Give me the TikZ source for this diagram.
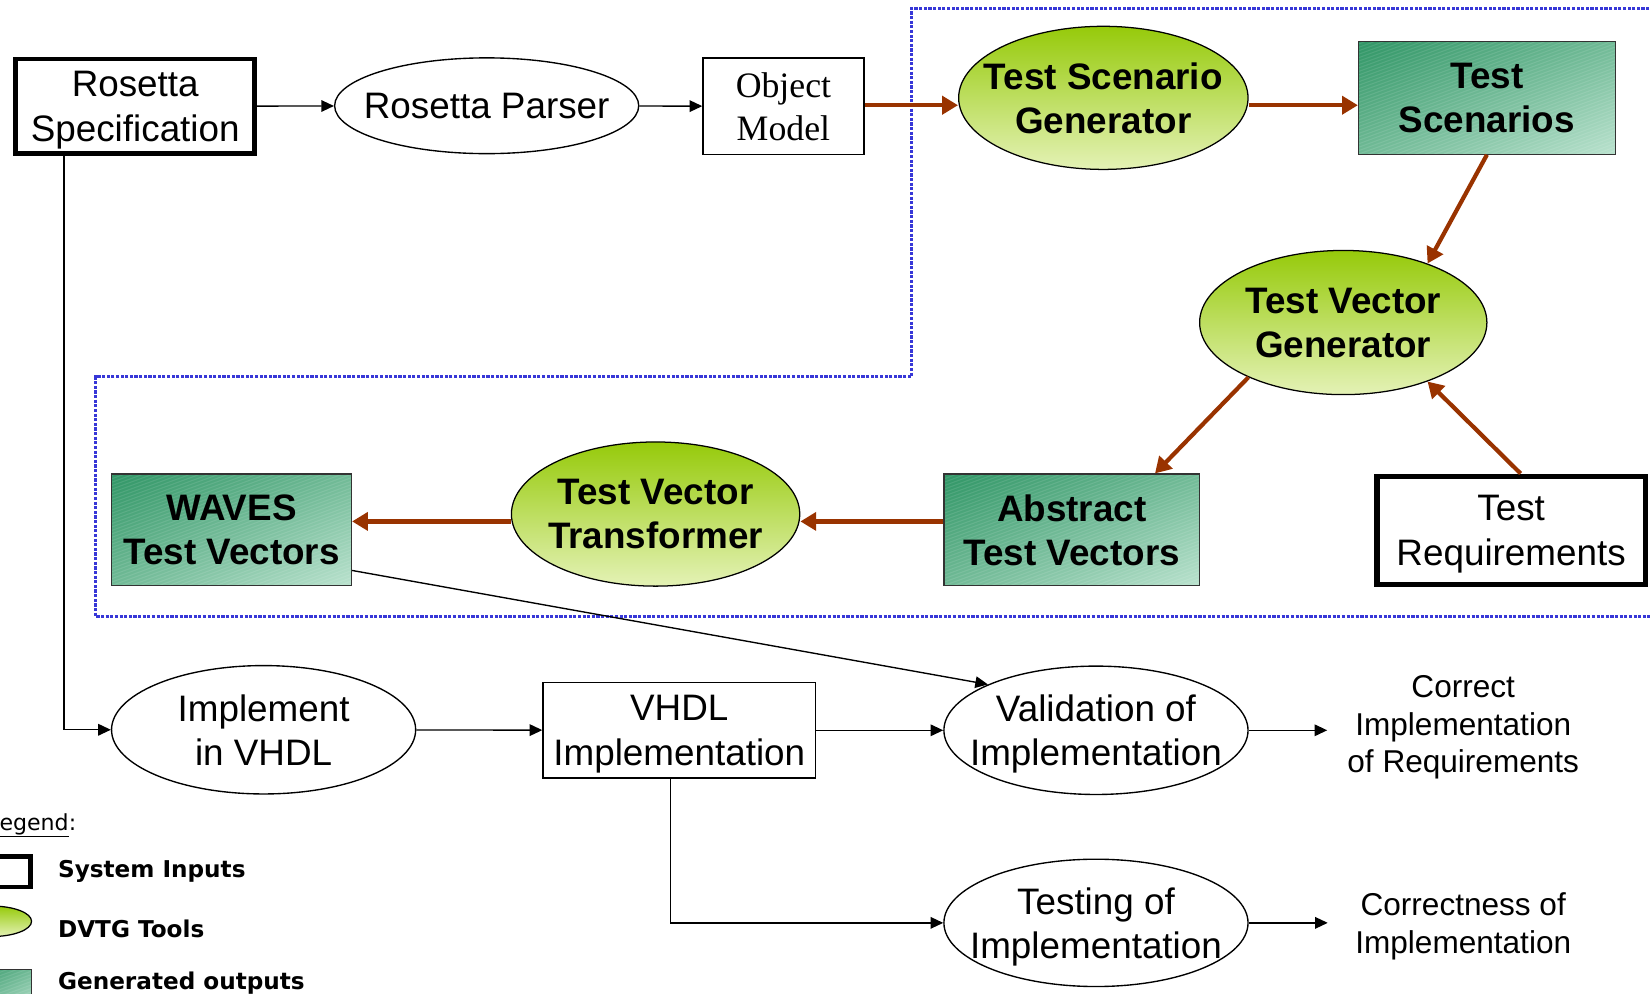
\documentclass[tikz,border=0pt]{standalone}
\usepackage{fontspec}
\setmainfont{Liberation Sans}
\newfontfamily\serifface{Liberation Serif}
\newfontfamily\legendface{DejaVu Sans}
\usetikzlibrary{arrows.meta,shapes.geometric,shadings}

\definecolor{brn}{RGB}{153,51,0}
\definecolor{frameblue}{RGB}{55,55,215}
\definecolor{limetop}{RGB}{150,202,10}
\definecolor{limebot}{RGB}{228,242,182}
\definecolor{seadark}{RGB}{48,150,102}
\definecolor{seamid}{RGB}{112,186,150}
\definecolor{sealight}{RGB}{186,226,206}

\tikzset{
  txt/.style={font=\fontsize{35}{42}\selectfont, align=center, inner sep=0pt, text depth=0pt},
  smalltxt/.style={font=\fontsize{30}{36}\selectfont, align=center, inner sep=0pt, text depth=0pt},
  sysbox/.style={txt, draw, rectangle, line width=4.5pt},
  procbox/.style={txt, draw, rectangle, line width=1.3pt},
  proc/.style={txt, draw, ellipse, line width=1.3pt, inner xsep=-25pt},
  tool/.style={draw, ellipse, line width=1.2pt, top color=limetop, bottom color=limebot,
    font=\bfseries\fontsize{35}{42}\selectfont, align=center, inner sep=0pt, inner xsep=-25pt,
    text depth=0pt},
  outbox/.style={draw=black!80, rectangle, line width=1.2pt,
    upper left=seadark, upper right=seamid, lower left=seamid, lower right=sealight,
    font=\bfseries\fontsize{35}{42}\selectfont, align=center, inner sep=0pt, text depth=0pt,
    path picture={
      \foreach \k in {-40,...,30}
        \draw[white, opacity=0.10, line width=1pt]
          ([xshift=\k*9pt]path picture bounding box.south west) -- ++(330pt,120pt);
    }},
  flow/.style={line width=1.3pt, -{Triangle[length=12pt,width=11pt]}},
  feed/.style={brn, line width=4pt, -{Triangle[length=15pt,width=17pt]}},
  frame/.style={frameblue, line width=3.2pt, dash pattern=on 3pt off 1.4pt},
  legtxt/.style={font=\legendface\bfseries\fontsize{22}{26}\selectfont, inner sep=0pt}
}

\begin{document}
\begin{tikzpicture}[x=1pt,y=-1pt]
\useasboundingbox (0,0) rectangle (1568,944);
\clip (0,0) rectangle (1568,944);

% tool chain boundary
\draw[frame] (1620,8) -- (866,8) -- (866,358) -- (91,358) -- (91,586) -- (1620,586);

% front end
\node[sysbox, minimum width=227pt, minimum height=90pt] (spec) at (128.5,101) {Rosetta\\Specification};
\node[proc, minimum width=289pt, minimum height=91pt] (parser) at (462.5,100.5) {Rosetta Parser};
\node[procbox, minimum width=153pt, minimum height=92pt, font=\serifface\fontsize{34}{41}\selectfont] (om) at (744.5,101) {Object\\Model};

% DVTG tools and generated outputs
\node[tool, minimum width=275pt, minimum height=136pt] (tsg) at (1048.5,93) {Test Scenario\\Generator};
\node[outbox, minimum width=244pt, minimum height=107pt] (ts) at (1413,93) {Test\\Scenarios};
\node[tool, minimum width=273pt, minimum height=137pt] (tvg) at (1276.5,306.5) {Test Vector\\Generator};
\node[sysbox, line width=5pt, minimum width=255pt, minimum height=103pt] (req) at (1436,504) {Test\\Requirements};
\node[outbox, minimum width=243pt, minimum height=106pt] (atv) at (1018.5,503.5) {Abstract\\Test Vectors};
\node[tool, minimum width=274pt, minimum height=137pt] (tvt) at (623,488.5) {Test Vector\\Transformer};
\node[outbox, minimum width=228pt, minimum height=106pt] (waves) at (220,503.5) {WAVES\\Test Vectors};

% implementation and checking
\node[proc, minimum width=289pt, minimum height=122pt] (impl) at (250.5,693.5) {Implement\\in VHDL};
\node[procbox, minimum width=259pt, minimum height=91pt] (vhdl) at (645.5,694) {VHDL\\Implementation};
\node[proc, minimum width=289pt, minimum height=122pt] (valid) at (1041.5,694) {Validation of\\Implementation};
\node[proc, minimum width=289pt, minimum height=121pt] (testing) at (1041.5,877) {Testing of\\Implementation};
\node[smalltxt, inner xsep=19pt] (correct) at (1390.5,688) {Correct\\Implementation\\of Requirements};
\node[smalltxt, inner xsep=26pt] (correctness) at (1390.5,877) {Correctness of\\Implementation};

% connectors
\draw[flow] (spec) -- (parser);
\draw[flow] (parser) -- (om);
\draw[feed] ([yshift=1pt]om.east) -- ([yshift=1pt]om.east -| tsg.west);
\draw[feed] ([yshift=-7pt]tsg.east) -- ([yshift=-7pt]tsg.east -| ts.west);
\draw[feed] (ts.south) -- (tvg.35);
\draw[feed] (tvg.210) -- ([xshift=-43pt]atv.north east);
\draw[feed] ([xshift=9pt]req.north) -- (tvg.-35);
\draw[feed] ([yshift=8pt]atv.west) -- ([yshift=8pt]atv.west -| tvt.east);
\draw[feed] ([yshift=-7pt]tvt.west) -- ([yshift=-7pt]tvt.west -| waves.east);
\draw[flow] ([yshift=15pt]waves.south east) -- (valid.157);
\draw[flow] ([xshift=48pt]spec.south west) |- (impl.west);
\draw[flow] (impl) -- (vhdl);
\draw[flow] (vhdl) -- (valid);
\draw[flow] (valid.east) -- (valid.east -| correct.west);
\draw[flow] ([xshift=122pt]vhdl.south west) |- (testing.west);
\draw[flow] (testing.east) -- (testing.east -| correctness.west);

% legend
\node[font=\legendface\fontsize{21}{25}\selectfont, inner sep=0pt, anchor=base west] (leghead) at (-12,789) {\underline{Legend}:};
\node[sysbox, line width=4pt, minimum width=60pt, minimum height=29pt] (legsys) at (-1,828.5) {};
\node[tool, minimum width=76pt, minimum height=29pt] (legtool) at (-8,875.5) {};
\node[outbox, minimum width=60pt, minimum height=40pt] (legout) at (0,941) {};
\node[legtxt, anchor=base west] (legsystxt) at (55,834) {System Inputs};
\node[legtxt, anchor=base west] (legtooltxt) at (55,891) {DVTG Tools};
\node[legtxt, anchor=base west] (legouttxt) at (55,940) {Generated outputs};
\end{tikzpicture}
\end{document}
